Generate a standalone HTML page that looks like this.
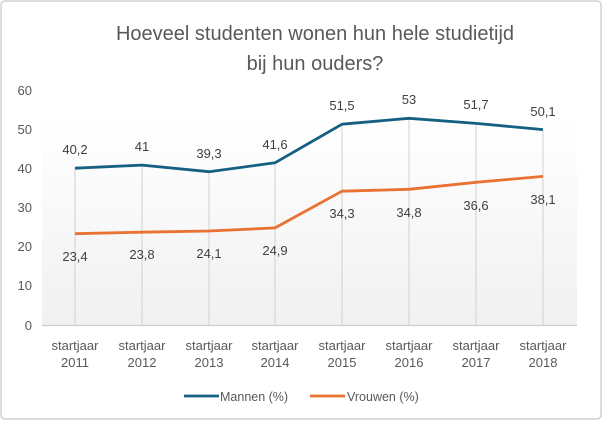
<!DOCTYPE html>
<html><head><meta charset="utf-8"><style>
body{margin:0;background:#fff}
svg{display:block;font-family:"Liberation Sans",sans-serif}
</style></head><body>
<svg width="602" height="421" viewBox="0 0 602 421" xmlns="http://www.w3.org/2000/svg">
<defs><linearGradient id="g" x1="0" y1="0" x2="0" y2="1"><stop offset="0" stop-color="#fff"/><stop offset="1" stop-color="#f1f1f1"/></linearGradient></defs>
<rect x="1" y="1" width="600" height="418" rx="4" fill="#fff" stroke="#d0d0d0" stroke-width="1.5"/>
<rect x="42" y="117" width="535" height="208" fill="url(#g)"/>
<g fill="#595959" font-size="20" text-anchor="middle">
<text x="315" y="40">Hoeveel studenten wonen hun hele studietijd</text>
<text x="315" y="70">bij hun ouders?</text>
</g>
<g fill="#595959" font-size="13" text-anchor="end">
<text x="32" y="95">60</text><text x="32" y="134">50</text><text x="32" y="173">40</text><text x="32" y="212">30</text><text x="32" y="251">20</text><text x="32" y="290">10</text><text x="32" y="330">0</text>
</g>
<line x1="42" y1="325.5" x2="577" y2="325.5" stroke="#d0d0d0" stroke-width="1.2"/>
<g stroke="#d0d0d0" stroke-width="1">
<line x1="75" y1="168" x2="75" y2="325"/><line x1="142" y1="165" x2="142" y2="325"/><line x1="209" y1="172" x2="209" y2="325"/><line x1="275" y1="163" x2="275" y2="325"/><line x1="342" y1="124" x2="342" y2="325"/><line x1="409" y1="118" x2="409" y2="325"/><line x1="476" y1="123" x2="476" y2="325"/><line x1="543" y1="130" x2="543" y2="325"/>
</g>
<polyline fill="none" stroke="#156082" stroke-width="2.8" stroke-linejoin="round" points="75,168.2 142,165.1 209,171.7 275,162.8 342,124.2 409,118.3 476,123.4 543,129.6"/>
<polyline fill="none" stroke="#e97132" stroke-width="2.8" stroke-linejoin="round" points="75,233.7 142,232.2 209,231 275,227.9 342,191.2 409,189.3 476,182.3 543,176.4"/>
<g fill="#404040" font-size="13" text-anchor="middle">
<text x="75" y="154">40,2</text><text x="142" y="151">41</text><text x="209" y="158">39,3</text><text x="275" y="149">41,6</text><text x="342" y="110">51,5</text><text x="409" y="104">53</text><text x="476" y="109">51,7</text><text x="543" y="116">50,1</text>
<text x="75" y="261">23,4</text><text x="142" y="259">23,8</text><text x="209" y="258">24,1</text><text x="275" y="255">24,9</text><text x="342" y="218">34,3</text><text x="409" y="217">34,8</text><text x="476" y="210">36,6</text><text x="543" y="204">38,1</text>
</g>
<g fill="#595959" font-size="13" text-anchor="middle">
<text x="75" y="350">startjaar</text><text x="75" y="367">2011</text>
<text x="142" y="350">startjaar</text><text x="142" y="367">2012</text>
<text x="209" y="350">startjaar</text><text x="209" y="367">2013</text>
<text x="275" y="350">startjaar</text><text x="275" y="367">2014</text>
<text x="342" y="350">startjaar</text><text x="342" y="367">2015</text>
<text x="409" y="350">startjaar</text><text x="409" y="367">2016</text>
<text x="476" y="350">startjaar</text><text x="476" y="367">2017</text>
<text x="543" y="350">startjaar</text><text x="543" y="367">2018</text>
</g>
<line x1="184" y1="396" x2="219" y2="396" stroke="#156082" stroke-width="2.8"/>
<line x1="310" y1="396" x2="345" y2="396" stroke="#e97132" stroke-width="2.8"/>
<g fill="#595959" font-size="12.5">
<text x="220" y="401">Mannen (%)</text><text x="347" y="401">Vrouwen (%)</text>
</g>
</svg>
</body></html>
